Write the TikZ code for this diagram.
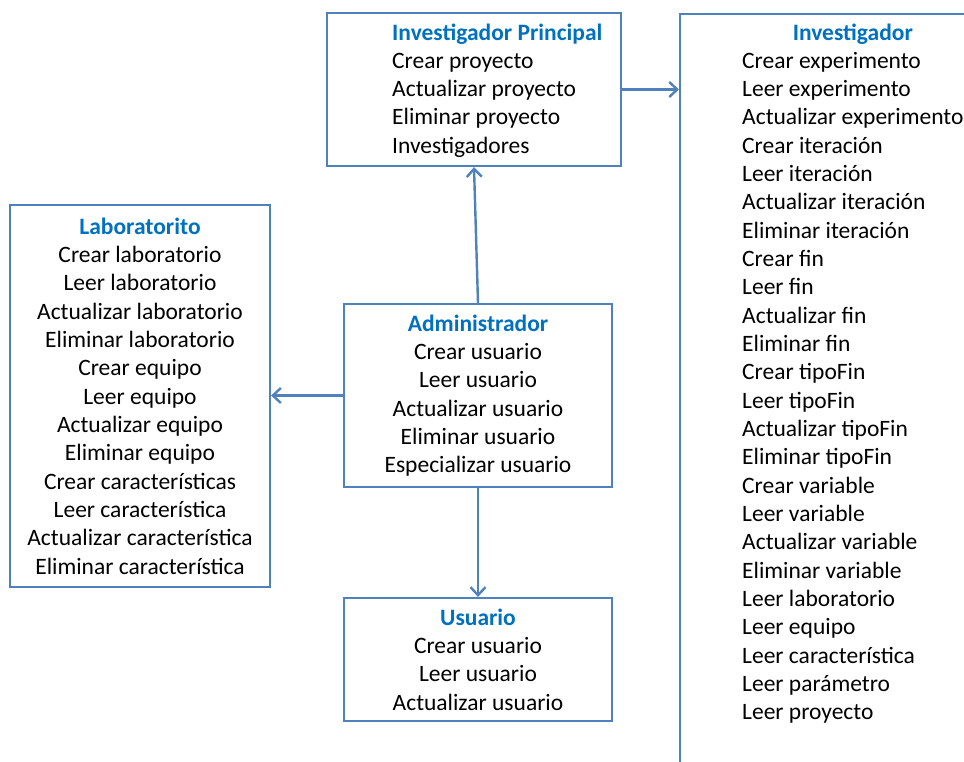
\documentclass[tikz,border=0pt]{standalone}
\usepackage{fontspec}
\setmainfont{Carlito}
\usetikzlibrary{arrows.meta}
\definecolor{boxblue}{RGB}{79,129,189}
\definecolor{ttlblue}{RGB}{0,112,192}
\newcommand{\ttl}[1]{{\bfseries\color{ttlblue}#1}}
\tikzset{
  box/.style={draw=boxblue,line width=2.2pt,inner sep=0pt,align=center,font=\fontsize{23.5}{28.33}\selectfont},
  txt/.style={inner sep=0pt,anchor=base west,font=\fontsize{23.5}{28.33}\selectfont},
  arr/.style={draw=boxblue,line width=2.4pt,-{Straight Barb[length=8pt,width=15pt]}}
}

\begin{document}
\begin{tikzpicture}[x=1pt,y=-1pt]
\clip (0,0) rectangle (964,761);
\node[box,minimum width=294pt,minimum height=153pt] (ip) at (474,89.5) {};
\node[txt] (iptxt) at (392,40) {\begin{tabular}[t]{@{}l@{}}\ttl{Investigador Principal}\\ Crear proyecto\\ Actualizar proyecto\\ Eliminar proyecto\\ Investigadores\end{tabular}};
\node[box,minimum width=400pt,minimum height=900pt,anchor=north west] (inv) at (679,13) {};
\node[txt] (invtxt) at (742,40) {\begin{tabular}[t]{@{}l@{}}\multicolumn{1}{@{}c@{}}{\ttl{Investigador}}\\
  Crear experimento\\ Leer experimento\\ Actualizar experimento\\ Crear iteración\\ Leer iteración\\
  Actualizar iteración\\ Eliminar iteración\\ Crear fin\\ Leer fin\\ Actualizar fin\\ Eliminar fin\\
  Crear tipoFin\\ Leer tipoFin\\ Actualizar tipoFin\\ Eliminar tipoFin\\ Crear variable\\ Leer variable\\
  Actualizar variable\\ Eliminar variable\\ Leer laboratorio\\ Leer equipo\\ Leer característica\\
  Leer parámetro\\ Leer proyecto\end{tabular}};
\node[box,minimum width=260pt,minimum height=382pt] (lab) at (140,396) {\ttl{Laboratorito}\\ Crear laboratorio\\ Leer laboratorio\\
  Actualizar laboratorio\\ Eliminar laboratorio\\ Crear equipo\\ Leer equipo\\ Actualizar equipo\\ Eliminar equipo\\
  Crear características\\ Leer característica\\ Actualizar característica\\ Eliminar característica};
\node[box,minimum width=268pt,minimum height=183pt] (admin) at (478,395.5) {\ttl{Administrador}\\ Crear usuario\\ Leer usuario\\
  Actualizar usuario\\ Eliminar usuario\\ Especializar usuario};
\node[box,minimum width=268pt,minimum height=123pt] (user) at (478,659.5) {\ttl{Usuario}\\ Crear usuario\\ Leer usuario\\ Actualizar usuario};
% connectors
\draw[arr] (ip.east) -- (ip.east -| inv.west);
\draw[arr] (admin.north) -- (ip.south);
\draw[arr] (admin.west) -- (admin.west -| lab.east);
\draw[arr] (admin.south) -- (user.north);
\end{tikzpicture}
\end{document}
